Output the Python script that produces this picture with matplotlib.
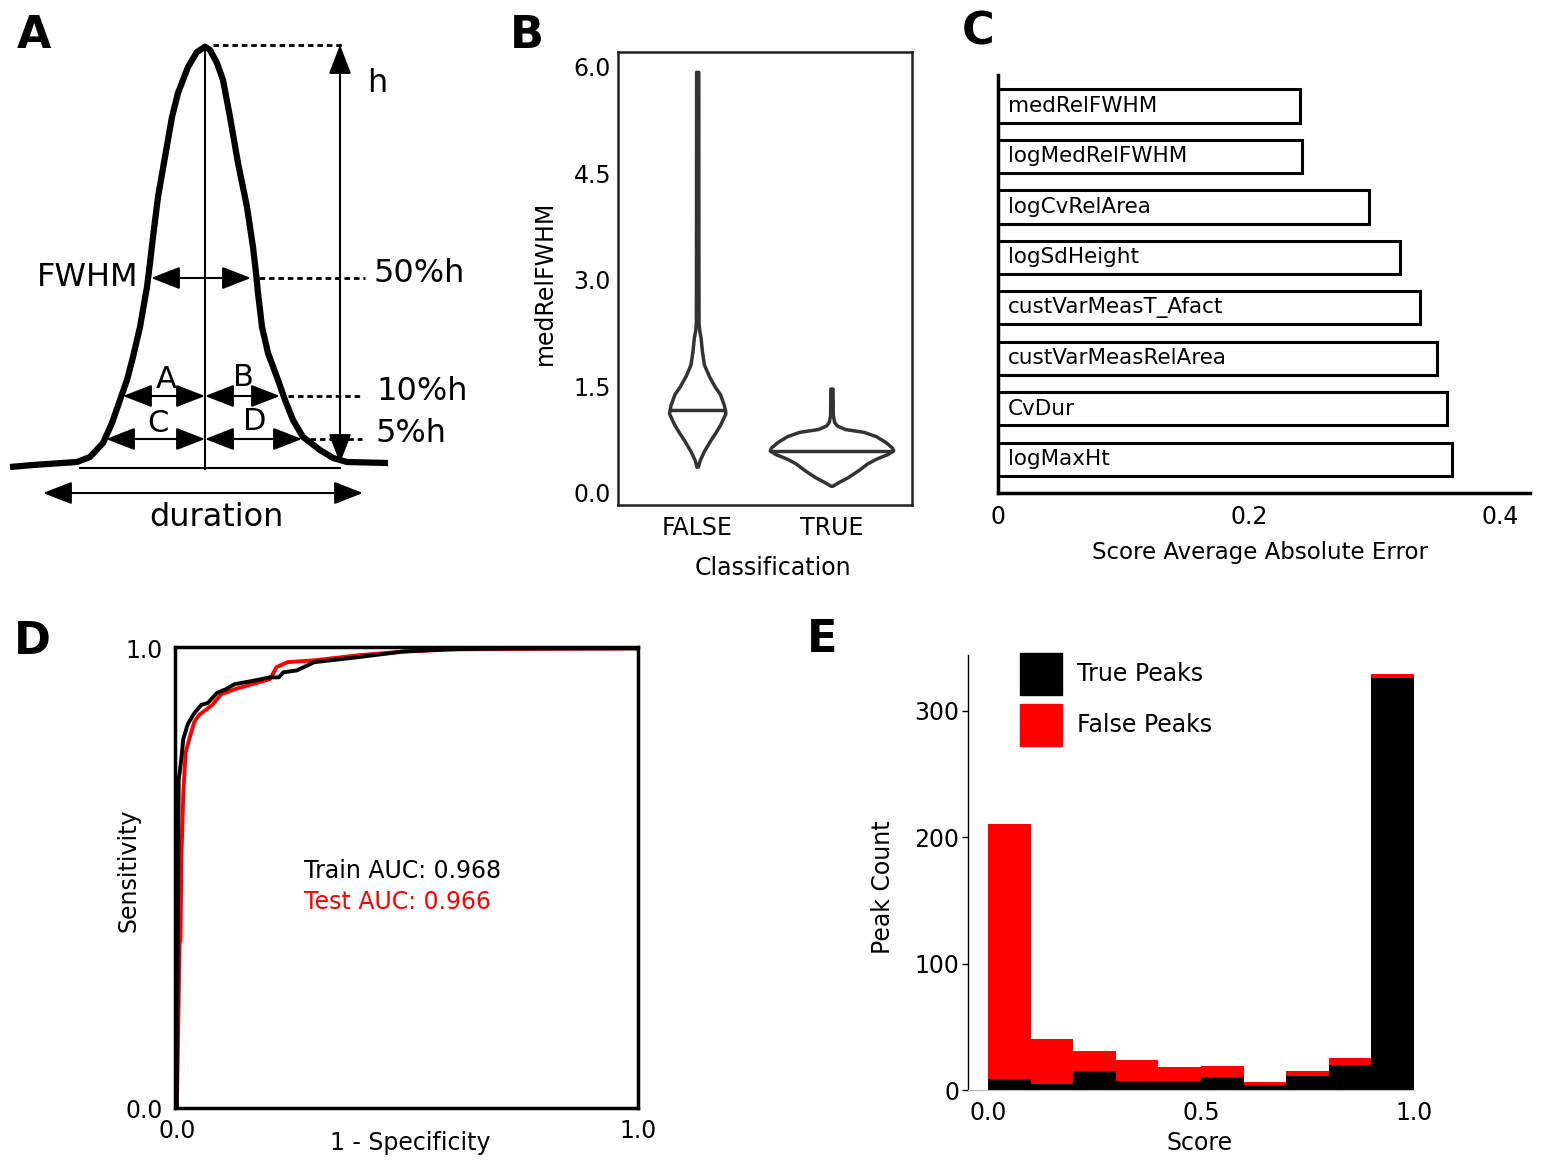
import numpy as np
import matplotlib.pyplot as plt
from matplotlib.patches import Patch

W, H = 1541, 1162

# ---- panel A: peak schematic (diagram units = pixels of the panel) ----
peak_x = [10, 33, 77, 90, 103, 112, 120, 127, 133, 140, 147, 150, 153, 158, 165, 172, 178, 188, 197, 205,
          210, 217, 223, 230, 238, 247, 253, 256, 258, 262, 268, 278, 285, 293, 303, 320, 333, 347, 388]
peak_y = [467, 465, 462, 457, 443, 423, 400, 380, 357, 327, 287, 263, 237, 197, 157, 117, 93, 67, 52, 46.7,
          50, 63, 80, 117, 163, 207, 247, 273, 293, 327, 353, 380, 400, 420, 437, 450, 458, 462, 463]
apex = (205, 46)
base_y = 467
levels = {"50%h": (278, 151, 251), "10%h": (396, 123, 280), "5%h": (439, 106, 302)}

# ---- panel B: violin outlines (value, half width) ----
false_vals = [5.93, 3.5, 2.4, 2.29, 2.19, 2.0, 1.81, 1.65, 1.5, 1.39, 1.23, 1.12, 0.96, 0.85, 0.75, 0.59, 0.47, 0.37]
false_hw = [0.008, 0.009, 0.01, 0.015, 0.025, 0.035, 0.05, 0.086, 0.13, 0.17, 0.2, 0.21, 0.17, 0.135, 0.1, 0.05, 0.02, 0.005]
false_median = 1.17
true_vals = [1.47, 1.1, 1.0, 0.95, 0.9, 0.86, 0.8, 0.72, 0.64, 0.6, 0.55, 0.48, 0.42, 0.32, 0.22, 0.15, 0.1]
true_hw = [0.008, 0.01, 0.02, 0.04, 0.1, 0.24, 0.33, 0.4, 0.45, 0.46, 0.42, 0.33, 0.27, 0.2, 0.12, 0.05, 0.005]
true_median = 0.587

# ---- panel C ----
features = ["medRelFWHM", "logMedRelFWHM", "logCvRelArea", "logSdHeight",
            "custVarMeasT_Afact", "custVarMeasRelArea", "CvDur", "logMaxHt"]
mae = [0.241, 0.242, 0.296, 0.320, 0.336, 0.350, 0.358, 0.362]

# ---- panel D: ROC ----
train_fpr = [0, 0.004, 0.0096, 0.014, 0.024, 0.038, 0.053, 0.067, 0.087, 0.106, 0.125, 0.163, 0.202,
             0.221, 0.231, 0.26, 0.298, 0.394, 0.49, 0.587, 0.73, 1.0]
train_tpr = [0, 0.714, 0.758, 0.803, 0.836, 0.859, 0.877, 0.881, 0.903, 0.911, 0.922, 0.929, 0.937,
             0.937, 0.948, 0.952, 0.970, 0.981, 0.993, 0.998, 1.0, 1.0]
test_fpr = [0, 0.006, 0.008, 0.0096, 0.014, 0.019, 0.029, 0.038, 0.048, 0.0625, 0.077, 0.096, 0.125,
            0.163, 0.202, 0.216, 0.24, 0.298, 0.394, 0.49, 0.606, 1.0]
test_tpr = [0, 0.36, 0.364, 0.535, 0.684, 0.773, 0.810, 0.840, 0.855, 0.866, 0.877, 0.900, 0.911,
            0.922, 0.933, 0.959, 0.970, 0.974, 0.985, 0.993, 0.998, 1.0]

# ---- panel E: stacked histogram ----
bin_left = [0.0, 0.1, 0.2, 0.3, 0.4, 0.5, 0.6, 0.7, 0.8, 0.9]
true_counts = [9, 5, 15, 7, 7, 10, 4, 11, 20, 326]
false_counts = [201, 35, 16, 17, 11, 9, 2, 4, 5, 3]

plt.rcParams['font.family'] = 'DejaVu Sans'


def fx(x):
    return x / W


def fy(y):
    return 1 - y / H


def box(x0, y0, x1, y1):
    return [fx(x0), fy(y1), (x1 - x0) / W, (y1 - y0) / H]


fig = plt.figure(figsize=(W / 100, H / 100), dpi=100)

# panel letters
for lab, (px, py) in {"A": (34, 36), "B": (527, 36), "C": (978, 32), "D": (32, 642), "E": (822, 640)}.items():
    fig.text(fx(px), fy(py), lab, fontsize=32, fontweight='heavy', ha='center', va='center')

# ---------- A ----------
ax = fig.add_axes(box(0, 0, 500, 560))
ax.set_xlim(0, 500)
ax.set_ylim(560, 0)
ax.axis('off')
ax.plot([apex[0], apex[0]], [apex[1], base_y + 2], color='black', lw=1.5)
ax.plot([80, 340], [base_y + 1, base_y + 1], color='black', lw=1.5)
ax.plot(peak_x, peak_y, color='black', lw=4.5, solid_capstyle='butt', solid_joinstyle='round')
dash = dict(color='black', lw=2, linestyle=(0, (2, 1.4)))
ax.plot([apex[0] + 8, 342], [apex[1] - 1, apex[1] - 1], **dash)
arr = dict(arrowstyle='<|-|>,head_length=0.9,head_width=0.35', color='black', lw=1.5,
           mutation_scale=20, shrinkA=0, shrinkB=0)
ax.annotate('', xy=(340, 463), xytext=(340, 45), arrowprops=arr)
ax.text(377, 83, "h", fontsize=23, ha='center', va='center')

y50, l50, r50 = levels["50%h"]
ax.annotate('', xy=(r50, y50), xytext=(l50, y50), arrowprops=arr)
ax.plot([r50 + 8, 365], [y50, y50], **dash)
ax.text(138, y50, "FWHM", fontsize=23, ha='right', va='center')
ax.text(374, y50 - 5, "50%h", fontsize=23, ha='left', va='center')

for name, (yy, ll, rr), la, lb in [("10%h", levels["10%h"], "A", "B"), ("5%h", levels["5%h"], "C", "D")]:
    ax.annotate('', xy=(apex[0], yy), xytext=(ll, yy), arrowprops=arr)
    ax.annotate('', xy=(rr, yy), xytext=(apex[0], yy), arrowprops=arr)
    ax.plot([rr + 8, 362], [yy, yy], **dash)
    ax.text(376, yy - 5, name, fontsize=23, ha='left', va='center')
    ax.text((ll + apex[0]) / 2 + 2, yy - 16, la, fontsize=22, ha='center', va='center')
    ax.text((rr + apex[0]) / 2 + 1, yy - 18, lb, fontsize=22, ha='center', va='center')

ax.annotate('', xy=(363, 493), xytext=(43, 493), arrowprops=arr)
ax.text(216, 518, "duration", fontsize=23, ha='center', va='center')

# ---------- B ----------
ax = fig.add_axes(box(618, 52, 912, 505))
for pos, vals, hw, med in [(0, false_vals, false_hw, false_median), (1, true_vals, true_hw, true_median)]:
    v = np.array(vals)
    h = np.array(hw)
    ax.fill_betweenx(v, pos - h, pos + h, facecolor='white', edgecolor='#333333', lw=2.5)
    mhw = np.interp(med, v[::-1], h[::-1])
    ax.plot([pos - mhw, pos + mhw], [med, med], color='#333333', lw=2.5)
ax.set_xlim(-0.59, 1.6)
ax.set_ylim(-0.17, 6.21)
ax.set_xticks([0, 1])
ax.set_xticklabels(["FALSE", "TRUE"])
ax.set_yticks([0, 1.5, 3.0, 4.5, 6.0])
ax.set_yticklabels(["0.0", "1.5", "3.0", "4.5", "6.0"])
ax.tick_params(length=0, labelsize=17)
ax.tick_params(axis='y', pad=5)
ax.tick_params(axis='x', pad=8)
for s in ax.spines.values():
    s.set_linewidth(1.8)
    s.set_color('#222222')
ax.set_xlabel("Classification", fontsize=17)
ax.set_ylabel("medRelFWHM", fontsize=17)
ax.xaxis.set_label_coords(0.527, -0.139)
ax.xaxis.label.set_va('center')
ax.yaxis.set_label_coords(-0.248, 0.49)
ax.yaxis.label.set_va('center')

# ---------- C ----------
ax = fig.add_axes(box(998, 75, 1530, 493))
ypos = np.arange(len(features))
ax.barh(ypos, mae, height=0.66, color='white', edgecolor='black', lw=2.2)
for yv, name in zip(ypos, features):
    ax.text(0.008, yv, name, fontsize=15.5, ha='left', va='center')
ax.set_ylim(7.67, -0.615)
ax.set_xlim(0, 0.4239)
ax.set_yticks([])
ax.set_xticks([0, 0.2, 0.4])
ax.set_xticklabels(["0", "0.2", "0.4"])
ax.tick_params(length=0, labelsize=17, pad=9)
ax.spines['top'].set_visible(False)
ax.spines['right'].set_visible(False)
ax.spines['left'].set_linewidth(2.5)
ax.spines['bottom'].set_linewidth(2.5)
ax.set_xlabel("Score Average Absolute Error", fontsize=16.5)
ax.xaxis.set_label_coords(0.492, -0.1435)
ax.xaxis.label.set_va('center')

# ---------- D ----------
ax = fig.add_axes(box(175, 647, 638, 1108))
ax.plot(test_fpr, test_tpr, color='#ff0000', lw=2.8)
ax.plot(train_fpr, train_tpr, color='black', lw=2.8)
ax.set_xlim(-0.004, 1)
ax.set_ylim(0, 1.003)
ax.set_xticks([0, 1])
ax.set_xticklabels(["0.0", "1.0"])
ax.set_yticks([0, 1])
ax.set_yticklabels(["0.0", "1.0"])
ax.tick_params(length=0, labelsize=17)
ax.tick_params(axis='y', pad=9)
ax.tick_params(axis='x', pad=8)
for s in ax.spines.values():
    s.set_linewidth(2.5)
ax.text(0.276, 0.516, "Train AUC: 0.968", fontsize=17, ha='left', va='center')
ax.text(0.276, 0.449, "Test AUC: 0.966", fontsize=17, ha='left', va='center', color='#ff0000')
ax.set_xlabel("1 - Specificity", fontsize=17)
ax.set_ylabel("Sensitivity", fontsize=17)
ax.xaxis.set_label_coords(0.508, -0.076)
ax.xaxis.label.set_va('center')
ax.yaxis.set_label_coords(-0.1015, 0.516)
ax.yaxis.label.set_va('center')

# ---------- E ----------
ax = fig.add_axes(box(968, 655, 1414, 1090))
ax.bar(bin_left, true_counts, width=0.1, align='edge', color='black', lw=0)
ax.bar(bin_left, false_counts, width=0.1, align='edge', bottom=true_counts, color='#ff0000', lw=0)
ax.set_xlim(-0.047, 1.0)
ax.set_ylim(0, 344)
ax.set_xticks([0, 0.5, 1.0])
ax.set_xticklabels(["0.0", "0.5", "1.0"])
ax.set_yticks([0, 100, 200, 300])
ax.tick_params(axis='x', length=0, labelsize=17, pad=8)
ax.tick_params(axis='y', length=4, width=1, labelsize=17, pad=2)
ax.spines['top'].set_visible(False)
ax.spines['right'].set_visible(False)
ax.spines['bottom'].set_color('#bbbbbb')
ax.spines['left'].set_linewidth(1)
ax.set_xlabel("Score", fontsize=17)
ax.set_ylabel("Peak Count", fontsize=17)
ax.xaxis.set_label_coords(0.52, -0.122)
ax.xaxis.label.set_va('center')
ax.yaxis.set_label_coords(-0.19, 0.467)
ax.yaxis.label.set_va('center')
handles = [Patch(facecolor='black', edgecolor='black'), Patch(facecolor='#ff0000', edgecolor='#ff0000')]
fig.legend(handles, ["True Peaks", "False Peaks"], loc='upper left',
           bbox_to_anchor=(fx(1020), fy(653)), bbox_transform=fig.transFigure,
           frameon=False, fontsize=17, handlelength=1.78, handleheight=2.36,
           handletextpad=0.64, labelspacing=0.38, borderpad=0, borderaxespad=0)

fig.savefig("out.png", dpi=100)
